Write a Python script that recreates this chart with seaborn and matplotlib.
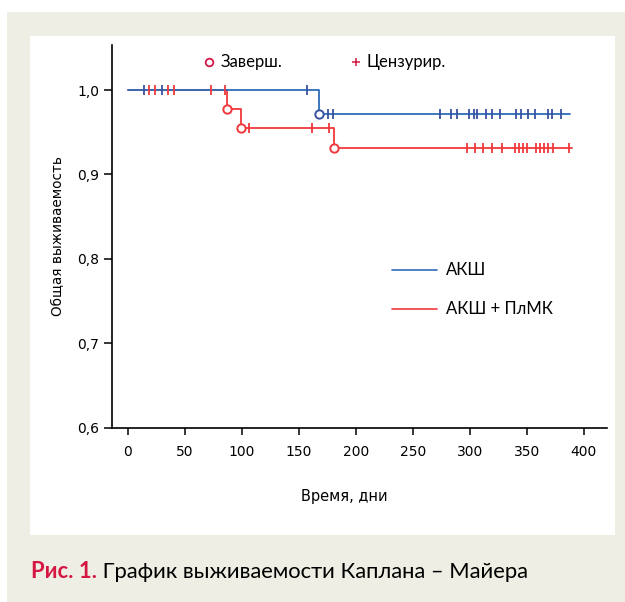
import numpy as np
import pandas as pd
import matplotlib
matplotlib.use("Agg")
import matplotlib.pyplot as plt
from matplotlib.patches import Rectangle
from matplotlib.lines import Line2D
import seaborn as sns

# ---------------- data ----------------
groups = ["АКШ", "АКШ + ПлМК"]
# blue group
blue_event_times = [168]
blue_levels = [1.0, 0.972]
blue_censor = [14, 30, 157, 176, 180, 274, 284, 289, 299, 304, 306, 314, 320,
               327, 341, 345, 351, 357, 369, 372, 380]
blue_end = 388
# red group
red_event_times = [87, 99, 181]
red_levels = [1.0, 0.977, 0.955, 0.931]
red_censor = [19, 24, 35, 41, 73, 85, 106, 162, 177, 298, 305, 312, 320, 328,
              340, 343, 347, 350, 358, 362, 365, 369, 373, 387]
red_end = 390

x_ticks = [0, 50, 100, 150, 200, 250, 300, 350, 400]
y_ticks = [0.6, 0.7, 0.8, 0.9, 1.0]
y_tick_labels = ["0,6", "0,7", "0,8", "0,9", "1,0"]

xlabel = "Время, дни"
ylabel = "Общая выживаемость"
legend_event = "Заверш."
legend_censor = "Цензурир."
caption_bold = "Рис. 1."
caption_text = " График выживаемости Каплана – Майера"

BLUE = "#2c6db8"
BLUE_T = "#3a52a2"
RED = "#f0383c"
CRIMSON = "#d41843"
BEIGE = "#efeee4"


def step_frame(name, events, levels, end):
    t = [0] + list(events) + [end]
    s = list(levels) + [levels[-1]]
    return pd.DataFrame({"t": t, "s": s, "group": name})


def level_at(t, events, levels):
    idx = np.searchsorted(events, t, side="right")
    return levels[idx]


# red first so that blue is drawn on top
df = pd.concat([
    step_frame(groups[1], red_event_times, red_levels, red_end),
    step_frame(groups[0], blue_event_times, blue_levels, blue_end),
], ignore_index=True)

cens = pd.concat([
    pd.DataFrame({"t": blue_censor,
                  "s": [level_at(t, blue_event_times, blue_levels) for t in blue_censor],
                  "group": groups[0]}),
    pd.DataFrame({"t": red_censor,
                  "s": [level_at(t, red_event_times, red_levels) for t in red_censor],
                  "group": groups[1]}),
], ignore_index=True)

evs = pd.concat([
    pd.DataFrame({"t": blue_event_times, "s": blue_levels[1:], "group": groups[0]}),
    pd.DataFrame({"t": red_event_times, "s": red_levels[1:], "group": groups[1]}),
], ignore_index=True)

# ---------------- figure ----------------
sns.set_theme(style="white")
plt.rcParams["font.family"] = ["DejaVu Sans"]

W, H = 625, 602
fig = plt.figure(figsize=(W / 100, H / 100), dpi=100, facecolor="white")


def fx(x):
    return x / W


def fy(y):
    return 1 - y / H


fig.patches.append(Rectangle((fx(7), 0), 1 - fx(7), fy(12),
                             transform=fig.transFigure, facecolor=BEIGE,
                             edgecolor="none", zorder=-10))
fig.patches.append(Rectangle((fx(30), fy(535)), fx(585), 499 / H,
                             transform=fig.transFigure, facecolor="white",
                             edgecolor="none", zorder=-9))

ax_l, ax_r, ax_t, ax_b = 112, 607, 45, 428
ax = fig.add_axes([fx(ax_l), fy(ax_b), (ax_r - ax_l) / W, (ax_b - ax_t) / H])
ax.set_facecolor("none")

pal = {groups[0]: BLUE, groups[1]: RED}
tick_pal = {groups[0]: BLUE_T, groups[1]: RED}

sns.lineplot(data=df, x="t", y="s", hue="group", palette=pal,
             hue_order=[groups[1], groups[0]],
             drawstyle="steps-post", estimator=None, linewidth=1.3,
             legend=False, ax=ax, zorder=3)

for g in [groups[1], groups[0]]:
    sub = cens[cens.group == g]
    ax.plot(sub.t, sub.s, linestyle="none", marker="|", markersize=7,
            markeredgewidth=1.3, color=tick_pal[g], zorder=4)
    sub = evs[evs.group == g]
    ax.plot(sub.t, sub.s, linestyle="none", marker="o", markersize=6,
            markeredgewidth=1.4, markerfacecolor="white",
            markeredgecolor=tick_pal[g], zorder=5)

# scale: x=0 at 127.7 px, 1.14 px/day; y: 1.0 at 90 px, 845 px per unit
x0px, xs = 127.7, 1.14
ax.set_xlim((ax_l - x0px) / xs, (ax_r - x0px) / xs)
ax.set_ylim(0.6, 1.0 + (90 - ax_t) / 845)
ax.set_xticks(x_ticks)
ax.set_xticklabels([str(v) for v in x_ticks])
ax.set_yticks(y_ticks)
ax.set_yticklabels(y_tick_labels)

for sp in ["top", "right"]:
    ax.spines[sp].set_visible(False)
for sp in ["left", "bottom"]:
    ax.spines[sp].set_color("black")
    ax.spines[sp].set_linewidth(1.2)
ax.tick_params(axis="y", direction="out", length=6, width=1.1, pad=3,
               labelsize=10, colors="black", left=True)
ax.tick_params(axis="x", direction="out", length=5, width=1.1, pad=7,
               labelsize=10, colors="black", bottom=True)
ax.set_xlabel(xlabel, fontsize=10.5, color="black")
ax.xaxis.set_label_coords((344 - ax_l) / (ax_r - ax_l),
                          -(497 - ax_b) / (ax_b - ax_t))
ax.xaxis.label.set_va("center")
ax.set_ylabel(ylabel, fontsize=9.8, labelpad=9, color="black")

# top legend (markers)
lfam = ["Lato", "DejaVu Sans"]
LFS = 12
fig.lines.append(Line2D([fx(209)], [fy(62)], transform=fig.transFigure,
                        marker="o", markersize=5.5, markeredgewidth=1.3,
                        markerfacecolor="white", markeredgecolor=CRIMSON,
                        linestyle="none"))
fig.text(fx(221), fy(62), legend_event, family=lfam, fontsize=LFS,
         va="center", ha="left", color="black")
fig.lines.append(Line2D([fx(356)], [fy(62)], transform=fig.transFigure,
                        marker="+", markersize=6, markeredgewidth=1.1,
                        color=CRIMSON, linestyle="none"))
fig.text(fx(366), fy(62), legend_censor, family=lfam, fontsize=LFS,
         va="center", ha="left", color="black")

# group legend (lines)
for name, ypx in [(groups[0], 270), (groups[1], 309)]:
    fig.lines.append(Line2D([fx(392), fx(437)], [fy(ypx), fy(ypx)],
                            transform=fig.transFigure, color=pal[name],
                            linewidth=1.2))
    fig.text(fx(446), fy(ypx), name, family=lfam, fontsize=LFS,
             va="center", ha="left", color="black")

# caption
CFS = 15.8
t1 = fig.text(fx(31), fy(572), caption_bold, family=lfam, fontsize=CFS,
              fontweight="bold", color=CRIMSON, va="center", ha="left")
fig.canvas.draw()
bb = t1.get_window_extent()
fig.text(bb.x1 / W, fy(572), caption_text, family=lfam, fontsize=CFS,
         color="black", va="center", ha="left")

fig.savefig("out.png", dpi=100, facecolor="white")
